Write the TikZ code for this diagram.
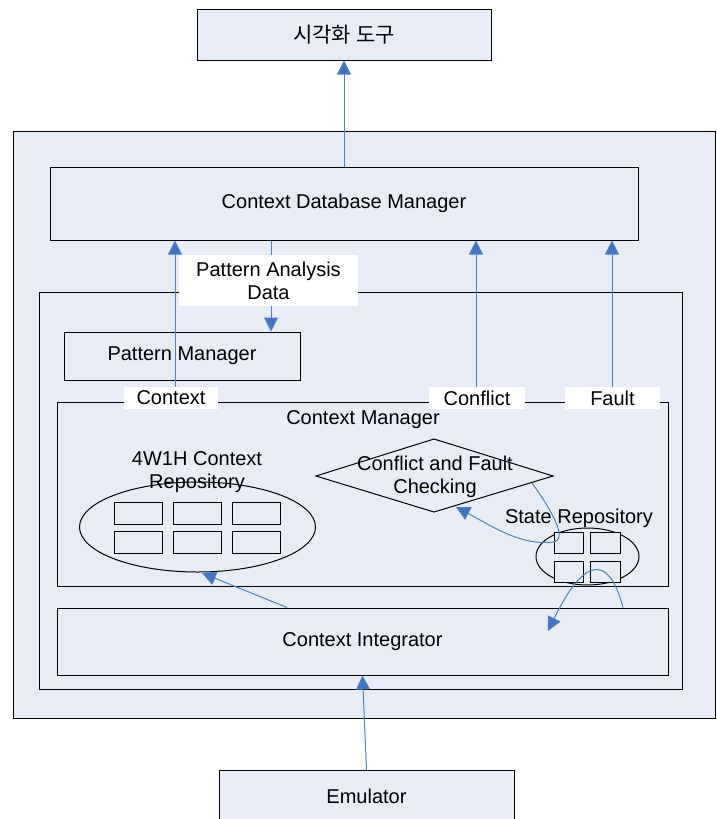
\documentclass[tikz,border=0pt]{standalone}
\usepackage{fontspec}
\setmainfont{Liberation Sans}
\newfontfamily\kr{Noto Sans CJK KR}
\usetikzlibrary{arrows.meta,shapes.geometric}
\definecolor{bgblue}{RGB}{231,236,247}
\definecolor{lnblue}{RGB}{79,129,189}
\definecolor{tipblue}{RGB}{68,114,196}
\tikzset{
  box/.style={draw=black, line width=1pt, fill=bgblue, inner sep=0pt},
  plain/.style={draw=black, line width=1pt, inner sep=0pt},
  lbl/.style={fill=white, inner sep=0pt, align=center},
  txt/.style={inner sep=0pt, align=center},
  conn/.style={draw=lnblue, line width=1pt, -{Triangle[width=14pt,length=14pt,fill=tipblue]}},
  cell/.style={draw=black, line width=1pt, inner sep=0pt, fill=bgblue},
}
\begin{document}
\begin{tikzpicture}[x=1pt,y=-1pt,font=\fontsize{20}{24}\selectfont]
\useasboundingbox (0,0) rectangle (716,819);
\fill[white] (0,0) rectangle (716,819);
% top / bottom boxes
\node[box, minimum width=294pt, minimum height=51pt] (vis) at (344,34.5) {{\kr\fontsize{21}{24}\selectfont 시각화 도구}};
\node[box, minimum width=295pt, minimum height=60pt, anchor=north] (emu) at (366.5,770) {};
\node[txt] at (366.5,796) {Emulator};
% outer system box
\node[box, minimum width=702pt, minimum height=587pt] (sys) at (364,424.5) {};
\node[box, minimum width=588pt, minimum height=73pt] (cdm) at (344,203.5) {Context Database Manager};
\node[box, minimum width=643pt, minimum height=397pt] (inner) at (360.5,490.5) {};
\node[box, minimum width=236pt, minimum height=48pt] (pm) at (182,356) {Pattern Manager};
\node[box, minimum width=611pt, minimum height=184pt] (cm) at (362.5,494) {};
\node[txt] (cmlabel) at (363,420) {Context Manager};
\node[box, minimum width=611pt, minimum height=67pt] (ci) at (362.5,641.5) {Context Integrator};
% 4W1H repository
\node[plain, ellipse, minimum width=236pt, minimum height=90pt] (rep) at (197.5,527) {};
\node[txt] (replabel) at (197,472) {4W1H Context\\[-1pt]Repository};
\foreach \cx/\n in {138/a,197/b,256/c}{
  \node[cell, minimum width=48pt, minimum height=22pt] (r1\n) at (\cx,513) {};
  \node[cell, minimum width=48pt, minimum height=22pt] (r2\n) at (\cx,542) {};
}
% diamond
\draw[line width=1pt] (316,476) -- (434,439) -- (553,476) -- (434,512) -- cycle;
\coordinate (dia) at (434,476);
\node[txt] (dialabel) at (435,476.5) {Conflict and Fault\\[-1pt]Checking};
% state repository
\node[txt] (srlabel) at (579,518) {State Repository};
\node[plain, ellipse, minimum width=103pt, minimum height=57pt] (sr) at (587.5,556.5) {};
\node[cell, minimum width=29pt, minimum height=21pt] (s1) at (568.5,542.5) {};
\node[cell, minimum width=30pt, minimum height=21pt] (s2) at (605,542.5) {};
\node[cell, minimum width=29pt, minimum height=21pt] (s3) at (568.5,571.5) {};
\node[cell, minimum width=30pt, minimum height=21pt] (s4) at (605,571.5) {};
% connectors
\draw[conn] (cdm.north) -- (vis.south);
\draw[conn] (emu.north) -- (ci.south);
\draw[conn] (271,0 |- cdm.south) -- (271,0 |- pm.north);
\draw[conn] (175,387) -- (175,0 |- cdm.south);
\draw[conn] (476,387) -- (476,0 |- cdm.south);
\draw[conn] (612,387) -- (612,0 |- cdm.south);
\draw[conn] (287,0 |- ci.north) -- (202,573);
\draw[conn] (532,483) .. controls (548,505) and (570,540) .. (553,542) .. controls (520,546) and (490,525) .. (456,507);
\draw[conn] (623,0 |- ci.north) .. controls (612,565) and (590,545) .. (548,631);
% white labels
\node[lbl, minimum width=179pt, minimum height=51pt] (pad) at (268.5,280.5) {Pattern Analysis\\[-1pt]Data};
\node[lbl, minimum width=94pt, minimum height=22pt] (lctx) at (171,398) {Context};
\node[lbl, minimum width=96pt, minimum height=22pt] (lcon) at (477,398) {Conflict};
\node[lbl, minimum width=95pt, minimum height=22pt] (lfau) at (612.5,398) {Fault};
\end{tikzpicture}
\end{document}
